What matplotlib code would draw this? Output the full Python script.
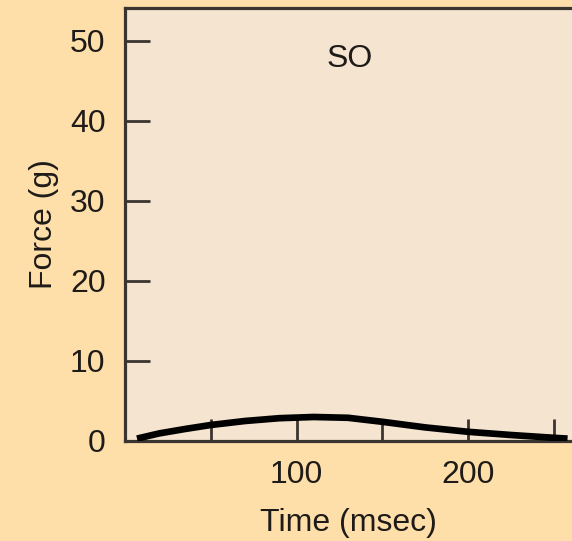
import matplotlib
matplotlib.use('Agg')
import matplotlib.pyplot as plt

# values
time_ms = [7, 20, 35, 50, 70, 90, 110, 130, 150, 175, 200, 225, 250, 258]
force_g = [0.3, 0.95, 1.5, 2.0, 2.5, 2.85, 3.0, 2.9, 2.4, 1.7, 1.15, 0.75, 0.4, 0.3]
x_ticks = [50, 100, 150, 200, 250]
x_tick_labels = ['', '100', '', '200', '']
y_ticks = [0, 10, 20, 30, 40, 50]
panel_label = 'SO'

plt.rcParams['font.family'] = ['Liberation Sans', 'DejaVu Sans']

outer_bg = '#FEDFAA'
inner_bg = '#F5E4D0'
dark = '#3A3530'
text_col = '#1E1B18'

fig = plt.figure(figsize=(5.72, 5.41), dpi=100, facecolor=outer_bg)
ax = fig.add_axes([125 / 572, 1 - 441 / 541, 1 - 125 / 572, (441 - 8) / 541])
ax.set_facecolor(inner_bg)

ax.plot(time_ms, force_g, color='black', linewidth=4.8, solid_capstyle='butt', zorder=3)

ax.set_xlim(0, 260.6)
ax.set_ylim(0, 54.1)

ax.set_xticks(x_ticks)
ax.set_xticklabels(x_tick_labels)
ax.set_yticks(y_ticks)

ax.tick_params(axis='both', direction='in', colors=dark, width=2.0,
               labelsize=23, labelcolor=text_col)
ax.tick_params(axis='x', length=16, pad=14)
ax.tick_params(axis='y', length=18, pad=14)

for side in ['left', 'bottom', 'top']:
    ax.spines[side].set_color(dark)
    ax.spines[side].set_linewidth(2.3)
ax.spines['right'].set_visible(False)

ax.set_xlabel('Time (msec)', fontsize=23, color=text_col, labelpad=13)
ax.set_ylabel('Force (g)', fontsize=23, color=text_col, labelpad=8)

ax.text(131, 47.7, panel_label, fontsize=23, color=text_col, ha='center', va='center')

fig.savefig('out.png', dpi=100, facecolor=outer_bg)
